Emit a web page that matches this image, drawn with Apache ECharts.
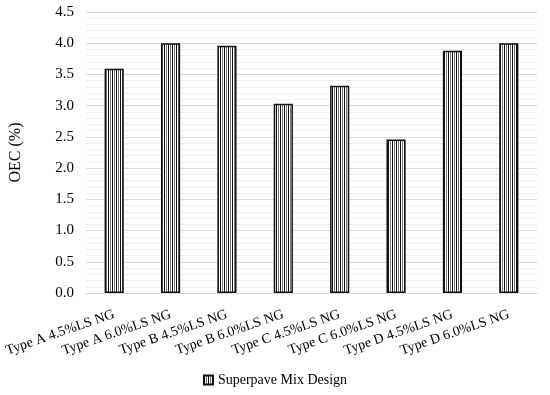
<!DOCTYPE html>
<html><head><meta charset="utf-8">
<script src="https://cdn.jsdelivr.net/npm/echarts@6/dist/echarts.min.js"></script>
<style>html,body{margin:0;padding:0;background:#fff}#c{width:550px;height:395px}</style>
</head><body><div id="c"></div>
<script>
var categories = ['Type A 4.5%LS NG','Type A 6.0%LS NG','Type B 4.5%LS NG','Type B 6.0%LS NG','Type C 4.5%LS NG','Type C 6.0%LS NG','Type D 4.5%LS NG','Type D 6.0%LS NG'];
var oecValues = [3.59, 4.00, 3.96, 3.03, 3.32, 2.46, 3.88, 4.00];
var seriesName = 'Superpave Mix Design';
var yAxisTitle = 'OEC (%)';

function makePattern(){
  var c = document.createElement('canvas');
  c.width = 4; c.height = 4;
  var ctx = c.getContext('2d');
  var cols = ['#111111','#ffffff','#7a7a7a','#ffffff'];
  for (var i=0;i<4;i++){ctx.fillStyle=cols[i];ctx.fillRect(i,0,1,4);}
  return c;
}
var pat = {image: makePattern(), repeat: 'repeat'};
var font = '"Liberation Serif","Times New Roman",serif';
var chart = echarts.init(document.getElementById('c'), null, {renderer:'canvas'});
chart.setOption({
  animation:false,
  backgroundColor:'#fff',
  textStyle:{fontFamily:font},
  grid:{left:84,right:13,top:12,bottom:102,containLabel:false},
  legend:{bottom:3,left:'center',itemWidth:9,itemHeight:9,icon:'rect',itemGap:4,
    textStyle:{fontFamily:font,fontSize:14,color:'#000'},
    data:[seriesName]},
  xAxis:{type:'category',data:categories,
    axisLine:{lineStyle:{color:'#d9d9d9',width:1}},axisTick:{show:false},
    axisLabel:{rotate:19,interval:0,fontFamily:font,fontSize:14,color:'#000',margin:21}},
  yAxis:{type:'value',min:0,max:4.5,interval:0.5,name:yAxisTitle,nameLocation:'middle',nameGap:62,
    nameTextStyle:{fontFamily:font,fontSize:16,color:'#000'},
    axisLine:{show:false},axisTick:{show:false},
    axisLabel:{fontFamily:font,fontSize:15,color:'#000',margin:12,formatter:function(v){return v.toFixed(1);}},
    splitLine:{lineStyle:{color:'#d9d9d9',width:1}},
    minorTick:{show:false,splitNumber:5},
    minorSplitLine:{show:true,lineStyle:{color:'#eeeeee',width:1}}},
  series:[{name:seriesName,type:'bar',data:oecValues,barWidth:'34%',
    itemStyle:{color:pat,borderColor:'#111',borderWidth:1.5}}]
});
</script></body></html>
